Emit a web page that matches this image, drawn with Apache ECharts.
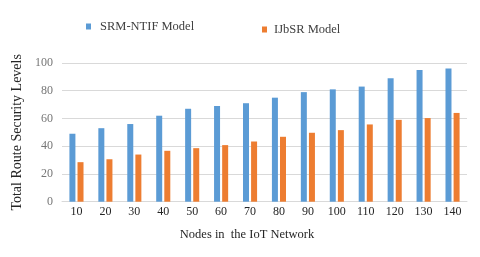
<!DOCTYPE html>
<html><head><meta charset="utf-8">
<script src="https://cdn.jsdelivr.net/npm/echarts@6/dist/echarts.min.js"></script>
<style>html,body{margin:0;padding:0;background:#fff}#c{width:480px;height:257px}</style>
</head><body><div id="c"></div>
<script>
const categories = ['10','20','30','40','50','60','70','80','90','100','110','120','130','140'];
const srmNtif = [49, 53, 56, 62, 67, 69, 71, 75, 79, 81, 83, 89, 95, 96];
const ijbsr = [28.5, 30.6, 34, 36.7, 38.6, 40.8, 43.4, 46.8, 49.7, 51.6, 55.7, 59, 60.3, 64];
const seriesNames = ['SRM-NTIF Model', 'IJbSR Model'];
const yTicks = {min: 0, max: 100, interval: 20};
const serif = '"Liberation Serif", "DejaVu Serif", serif';
const chart = echarts.init(document.getElementById('c'));
chart.setOption({
  animation: false,
  color: ['#5B9BD5', '#ED7D31'],
  legend: [
    {data: [seriesNames[0]], left: 86, top: 20, padding: 0, icon: 'rect', itemWidth: 5, itemHeight: 6,
     textStyle: {fontFamily: serif, fontSize: 12.5, color: '#404040', padding: [0, 0, 0, 4]}},
    {data: [seriesNames[1]], left: 262, top: 23, padding: 0, icon: 'rect', itemWidth: 5, itemHeight: 6,
     textStyle: {fontFamily: serif, fontSize: 12.5, color: '#404040', padding: [0, 0, 0, 2]}}
  ],
  grid: {left: 62, right: 13, top: 63, bottom: 55.3, containLabel: false},
  xAxis: {
    type: 'category', data: categories,
    name: 'Nodes in  the IoT Network', nameLocation: 'middle', nameGap: 27,
    nameTextStyle: {fontFamily: serif, fontSize: 12.5, color: '#262626', padding: [0, 35, 0, 0]},
    axisLine: {lineStyle: {color: '#D9D9D9'}},
    axisTick: {show: false},
    axisLabel: {fontFamily: serif, fontSize: 12, color: '#262626', margin: 4}
  },
  yAxis: {
    type: 'value', min: yTicks.min, max: yTicks.max, interval: yTicks.interval,
    name: 'Total Route Security Levels', nameLocation: 'middle', nameGap: 38,
    nameTextStyle: {fontFamily: serif, fontSize: 14, color: '#262626'},
    axisLine: {show: false}, axisTick: {show: false},
    axisLabel: {fontFamily: serif, fontSize: 12, color: '#767676', margin: 9},
    splitLine: {lineStyle: {color: '#D9D9D9'}}
  },
  series: [
    {name: seriesNames[0], type: 'bar', data: srmNtif, barWidth: 6, barGap: '35%'},
    {name: seriesNames[1], type: 'bar', data: ijbsr, barWidth: 6, barGap: '35%'}
  ]
});
</script></body></html>
